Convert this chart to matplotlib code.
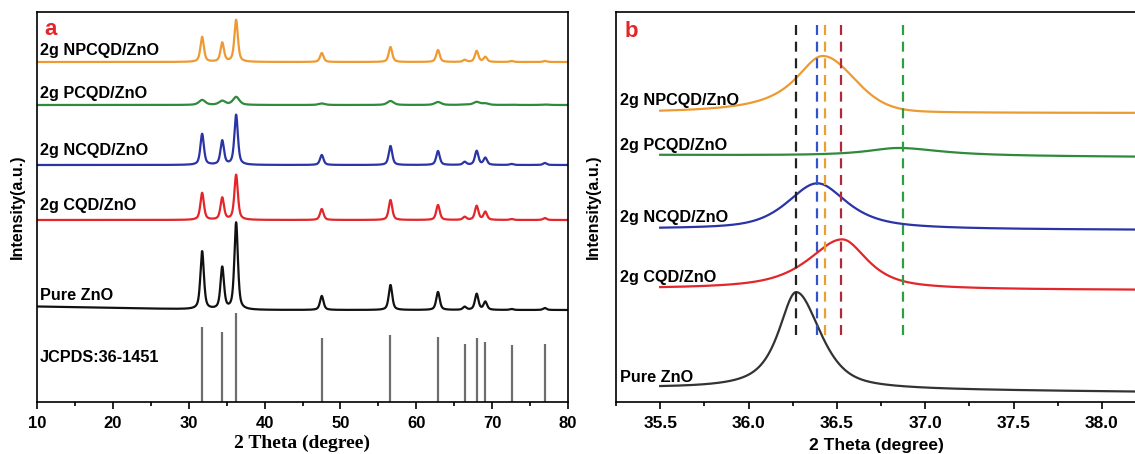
import numpy as np
import matplotlib
matplotlib.use("Agg")
import matplotlib.pyplot as plt

# ---------------- data: panel a (full XRD patterns) ----------------
samples = ["2g NPCQD/ZnO", "2g PCQD/ZnO", "2g NCQD/ZnO", "2g CQD/ZnO", "Pure ZnO"]
colors_a = ["#EE9A33", "#2E8B3C", "#2A34A4", "#E2262A", "#111111"]
peak_pos = [31.77, 34.42, 36.25, 47.54, 56.60, 62.86, 66.38, 67.96, 69.10, 72.56, 76.95]
baseline_a_start = [340, 297, 237, 182, 95.5]
baseline_a_end = [340, 297, 237, 182, 92]
heights_npcqd = [25, 19, 42, 9, 15, 12, 2, 11, 5, 1, 1]
heights_pcqd = [5, 4, 8, 1.5, 4, 3, 0.5, 3, 1.5, 0.3, 0.5]
heights_ncqd = [31, 24, 50, 10, 19, 14, 3, 14, 7, 1, 2]
heights_cqd = [27, 22, 45, 11, 20, 15, 3, 14, 8, 1, 2]
heights_pure = [58, 42, 87, 14, 25, 18, 3, 16, 8, 1, 2]
fwhm_a = [0.55, 1.0, 0.55, 0.55, 0.55]
jcpds_label = "JCPDS:36-1451"
jcpds_heights = [75, 70, 89, 64, 67, 65, 58, 64, 60, 57, 58]
label_y_a = [347, 304, 247, 192, 102]

# ---------------- data: panel b ((101) peak zoom) ----------------
colors_b = ["#EE9A33", "#2E8B3C", "#2A34A4", "#E2262A", "#333333"]
base_b_start = [289, 247, 173, 113, 14]
base_b_end = [289, 245, 172, 112, 10]
center_b = [36.42, 36.85, 36.39, 36.53, 36.27]
height_b = [57, 8, 46, 50, 97]
hwhm_left_b = [0.19, 0.22, 0.20, 0.23, 0.12]
hwhm_right_b = [0.21, 0.30, 0.20, 0.17, 0.16]
eta_left_b = [1.0, 1.0, 0.6, 0.8, 0.85]
eta_right_b = [0.2, 1.0, 0.8, 0.8, 0.6]
label_y_b = [297, 252, 180, 120, 20]
vline_pos = [36.27, 36.385, 36.435, 36.525, 36.873]
vline_colors = ["#222222", "#3553C8", "#E9A030", "#B0283A", "#2E9E42"]

jcpds_color = "#6E6E6E"
label_red = "#E2262A"


def pv(x, c, wl, wr, el, er):
    w = np.where(x < c, wl, wr)
    e = np.where(x < c, el, er)
    d2 = ((x - c) / w) ** 2
    return e / (1 + d2) + (1 - e) * np.exp(-np.log(2) * d2)


fig = plt.figure(figsize=(11.35, 4.54), dpi=100)
W, H = 1135.0, 454.0
ax1 = fig.add_axes([37 / W, (H - 402) / H, (568 - 37) / W, 390 / H])
ax2 = fig.add_axes([616 / W, (H - 402) / H, (1135 - 616) / W + 0.002, 390 / H])

sans = ["Liberation Sans", "DejaVu Sans"]
lab_fs = 11.7

# ---- panel a ----
xa = np.linspace(10, 80, 7001)
all_heights = [heights_npcqd, heights_pcqd, heights_ncqd, heights_cqd, heights_pure]
for i, name in enumerate(samples):
    base = baseline_a_start[i] + (baseline_a_end[i] - baseline_a_start[i]) * np.clip((xa - 10) / 25, 0, 1)
    y = base.copy()
    hw = fwhm_a[i] / 2
    for p, h in zip(peak_pos, all_heights[i]):
        y += h * pv(xa, p, hw, hw, 0.6, 0.6)
    ax1.plot(xa, y, color=colors_a[i], lw=1.6)
    ax1.text(10.35, label_y_a[i], name, fontsize=lab_fs, fontweight="bold",
             family=sans, va="baseline", ha="left")
ax1.vlines(peak_pos, 0, jcpds_heights, color=jcpds_color, lw=1.6)
ax1.text(10.35, 40, jcpds_label, fontsize=lab_fs, fontweight="bold",
         family=sans, va="baseline", ha="left")
ax1.set_xlim(10, 80)
ax1.set_ylim(0, 390)
ax1.set_yticks([])
ax1.set_xticks(np.arange(10, 81, 10))
ax1.set_xticks(np.arange(15, 80, 10), minor=True)
ax1.tick_params(axis="x", which="major", direction="out", length=5, width=1.2, pad=5,
                labelsize=12)
ax1.tick_params(axis="x", which="minor", direction="out", length=3, width=1.2)
for lab in ax1.get_xticklabels():
    lab.set_fontweight("bold")
    lab.set_family(sans)
for s in ax1.spines.values():
    s.set_linewidth(1.2)
ax1.set_xlabel("2 Theta (degree)", fontsize=14, fontweight="bold",
               family=["Liberation Serif", "DejaVu Serif"], labelpad=3)
ax1.set_ylabel("Intensity(a.u.)", fontsize=11.5, fontweight="bold", family=sans, labelpad=9)
ax1.text(10.95, 367, "a", color=label_red, fontsize=16, fontweight="bold", family=sans,
         va="baseline")

# ---- panel b ----
xb = np.linspace(35.5, 38.25, 2000)
for i, name in enumerate(samples):
    base = base_b_start[i] + (base_b_end[i] - base_b_start[i]) * (xb - 35.5) / 2.75
    y = base + height_b[i] * pv(xb, center_b[i], hwhm_left_b[i], hwhm_right_b[i],
                                eta_left_b[i], eta_right_b[i])
    ax2.plot(xb, y, color=colors_b[i], lw=1.6)
    ax2.text(35.27, label_y_b[i], name, fontsize=lab_fs, fontweight="bold",
             family=sans, va="baseline", ha="left")
for xv, cv in zip(vline_pos, vline_colors):
    ax2.plot([xv, xv], [67, 382], color=cv, lw=1.6, dashes=(4.5, 3))
ax2.set_xlim(35.25, 38.2)
ax2.set_ylim(0, 390)
ax2.set_yticks([])
ax2.set_xticks(np.arange(35.5, 38.01, 0.5))
ax2.set_xticks(np.arange(35.25, 38.2, 0.5), minor=True)
ax2.xaxis.set_major_formatter(matplotlib.ticker.FormatStrFormatter("%.1f"))
ax2.tick_params(axis="x", which="major", direction="out", length=5, width=1.2, pad=5,
                labelsize=12.5)
ax2.tick_params(axis="x", which="minor", direction="out", length=3, width=1.2)
for lab in ax2.get_xticklabels():
    lab.set_fontweight("bold")
    lab.set_family(sans)
for s in ax2.spines.values():
    s.set_linewidth(1.2)
ax2.spines["right"].set_visible(False)
ax2.set_xlabel("2 Theta (degree)", fontsize=12.5, fontweight="bold", family=sans, labelpad=5)
ax2.set_ylabel("Intensity(a.u.)", fontsize=11.5, fontweight="bold", family=sans, labelpad=11)
ax2.text(35.3, 365, "b", color=label_red, fontsize=16, fontweight="bold", family=sans,
         va="baseline")

fig.savefig("out.png", dpi=100)
